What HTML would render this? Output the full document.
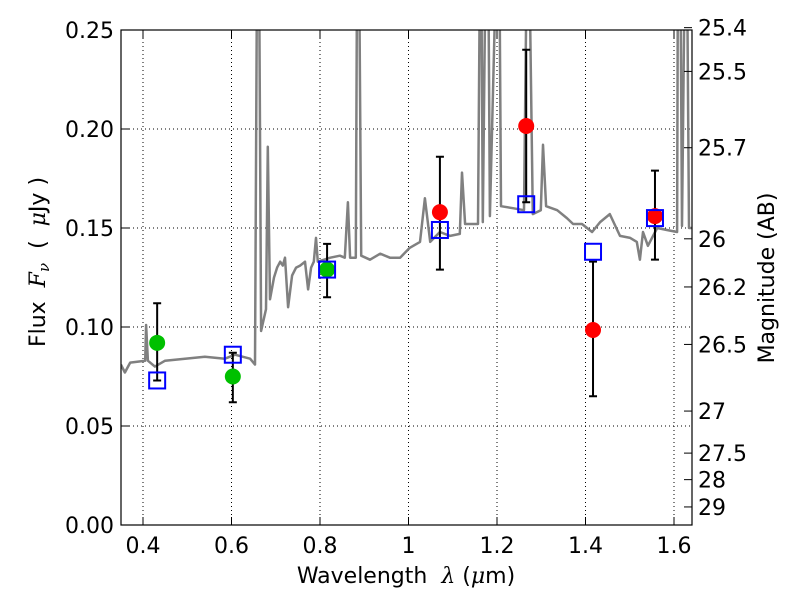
<!DOCTYPE html>
<html><head><meta charset="utf-8"><style>
body{margin:0;background:#fff}
svg{font-family:"DejaVu Sans","Liberation Sans",sans-serif}
text{white-space:pre}
</style></head><body>
<svg id="chart" width="800" height="600" viewBox="0 0 800 600">
<defs><clipPath id="clip"><rect x="121" y="30" width="571" height="495"/></clipPath></defs>
<g id="grid"></g>
<g id="spec" clip-path="url(#clip)"></g>
<g id="marks"></g>
<rect x="121" y="30" width="571" height="495" fill="none" stroke="#000" stroke-width="1.2"/>
<g id="axes"></g>
<text x="406" y="583" font-size="22" text-anchor="middle">Wavelength  <tspan font-style="italic" font-family="DejaVu Serif, serif">λ</tspan> (<tspan font-style="italic" font-family="DejaVu Serif, serif">μ</tspan>m)</text>
<text transform="translate(45,262) rotate(-90)" font-size="22" text-anchor="middle">Flux  <tspan font-style="italic" font-family="DejaVu Serif, serif">F<tspan font-size="15" dy="4">ν</tspan></tspan><tspan dy="-4">  (  </tspan><tspan font-style="italic" font-family="DejaVu Serif, serif">μ</tspan>Jy )</text>
<text transform="translate(774,278) rotate(-90)" font-size="22" text-anchor="middle">Magnitude (AB)</text>
</svg>
<script>
const specLam=[0.350,0.359,0.371,0.405,0.407,0.411,0.427,0.450,0.495,0.540,0.585,0.608,0.642,0.653,0.658,0.662,0.667,0.678,0.682,0.687,0.696,0.703,0.710,0.716,0.721,0.728,0.737,0.746,0.755,0.766,0.773,0.780,0.786,0.791,0.795,0.823,0.845,0.856,0.863,0.868,0.881,0.884,0.888,0.893,0.913,0.936,0.958,0.981,1.003,1.026,1.037,1.049,1.071,1.094,1.116,1.121,1.128,1.157,1.162,1.164,1.168,1.175,1.180,1.184,1.200,1.205,1.209,1.236,1.261,1.268,1.272,1.281,1.299,1.304,1.311,1.336,1.358,1.372,1.392,1.415,1.433,1.455,1.478,1.501,1.516,1.523,1.530,1.541,1.562,1.584,1.607,1.609,1.614,1.618,1.625,1.629,1.634,1.643];
const specFlux=[0.081,0.077,0.082,0.083,0.101,0.083,0.080,0.083,0.084,0.085,0.084,0.086,0.084,0.081,0.30,0.30,0.098,0.109,0.191,0.114,0.125,0.130,0.133,0.131,0.135,0.110,0.126,0.130,0.131,0.133,0.119,0.130,0.133,0.145,0.133,0.135,0.136,0.135,0.163,0.135,0.135,0.30,0.30,0.136,0.134,0.137,0.135,0.135,0.140,0.143,0.165,0.143,0.148,0.146,0.147,0.178,0.152,0.152,0.30,0.30,0.153,0.30,0.30,0.156,0.30,0.30,0.161,0.160,0.159,0.30,0.30,0.157,0.159,0.192,0.161,0.159,0.155,0.152,0.152,0.148,0.153,0.157,0.146,0.145,0.143,0.134,0.148,0.141,0.150,0.149,0.148,0.30,0.30,0.151,0.30,0.30,0.150,0.150];
const obsLam=[0.432,0.603,0.816,1.071,1.266,1.417,1.557];
const obsFlux=[0.092,0.075,0.129,0.158,0.2015,0.0985,0.156];
const obsLo=[0.073,0.062,0.115,0.129,0.163,0.065,0.134];
const obsHi=[0.112,0.087,0.142,0.186,0.240,0.133,0.179];
const obsColor=['#00c000','#00c000','#00c000','#ff0000','#ff0000','#ff0000','#ff0000'];
const modelFlux=[0.073,0.086,0.129,0.149,0.162,0.138,0.155];
const xTicks=[0.4,0.6,0.8,1.0,1.2,1.4,1.6];
const xTickLabels=['0.4','0.6','0.8','1','1.2','1.4','1.6'];
const yTicks=[0,0.05,0.10,0.15,0.20,0.25];
const yTickLabels=['0.00','0.05','0.10','0.15','0.20','0.25'];
const magTicks=[25.4,25.5,25.7,26,26.2,26.5,27,27.5,28,29];

const NS='http://www.w3.org/2000/svg';
const X=l=>143+(l-0.4)*442.5;
const Y=f=>525-f*1980;
const magY=m=>Y(Math.pow(10,(23.9-m)/2.5));
function mk(p,tag,at){const e=document.createElementNS(NS,tag);for(const k in at)e.setAttribute(k,at[k]);p.appendChild(e);return e;}
const grid=document.getElementById('grid'),axes=document.getElementById('axes'),spec=document.getElementById('spec'),marks=document.getElementById('marks');

xTicks.forEach((t,i)=>{
  const x=X(t);
  const g=mk(grid,'line',{x1:x,x2:x,y1:30,y2:525,stroke:'#000','stroke-width':1,'stroke-dasharray':'1,3'});
  
  
  mk(axes,'line',{x1:x,x2:x,y1:525,y2:517,stroke:'#000'});
  mk(axes,'line',{x1:x,x2:x,y1:30,y2:38,stroke:'#000'});
  const tx=mk(axes,'text',{x:x,y:553,'font-size':22,'text-anchor':'middle'});
  tx.textContent=xTickLabels[i];
  
  
});
yTicks.forEach((t,i)=>{
  const y=Y(t);
  if(t>0&&t<0.25){
    const g=mk(grid,'line',{x1:121,x2:692,y1:y,y2:y,stroke:'#000','stroke-width':1,'stroke-dasharray':'1,3'});
    
    
  }
  mk(axes,'line',{x1:121,x2:129,y1:y,y2:y,stroke:'#000'});
  const tx=mk(axes,'text',{x:114,y:y+8,'font-size':22,'text-anchor':'end'});
  tx.textContent=yTickLabels[i];
  
  
});
magTicks.forEach(m=>{
  const y=magY(m);
  mk(axes,'line',{x1:692,x2:684,y1:y,y2:y,stroke:'#000'});
  const tx=mk(axes,'text',{x:698,y:y+8,'font-size':22});
  tx.textContent=String(m);
  
  
});

let d='';
specLam.forEach((l,i)=>{d+=(i?'L':'M')+X(l).toFixed(1)+','+Y(specFlux[i]).toFixed(1);});
const sp=mk(spec,'path',{d:d,fill:'none',stroke:'#808080','stroke-width':2.5,'stroke-linejoin':'round'});



obsLam.forEach((l,i)=>{
  const x=X(l);
  const eb=mk(marks,'path',{d:`M${x},${Y(obsLo[i])}L${x},${Y(obsHi[i])}M${x-4},${Y(obsLo[i])}L${x+4},${Y(obsLo[i])}M${x-4},${Y(obsHi[i])}L${x+4},${Y(obsHi[i])}`,stroke:'#000','stroke-width':2,fill:'none'});
  
  
  const c=mk(marks,'circle',{cx:x,cy:Y(obsFlux[i]),r:8,fill:obsColor[i]});
  
  
});
obsLam.forEach((l,i)=>{
  const x=X(l),y=Y(modelFlux[i]);
  const s=mk(marks,'rect',{x:x-8,y:y-8,width:16,height:16,fill:'none',stroke:'#0000ff','stroke-width':2});
  
  
});
</script>
</body></html>
